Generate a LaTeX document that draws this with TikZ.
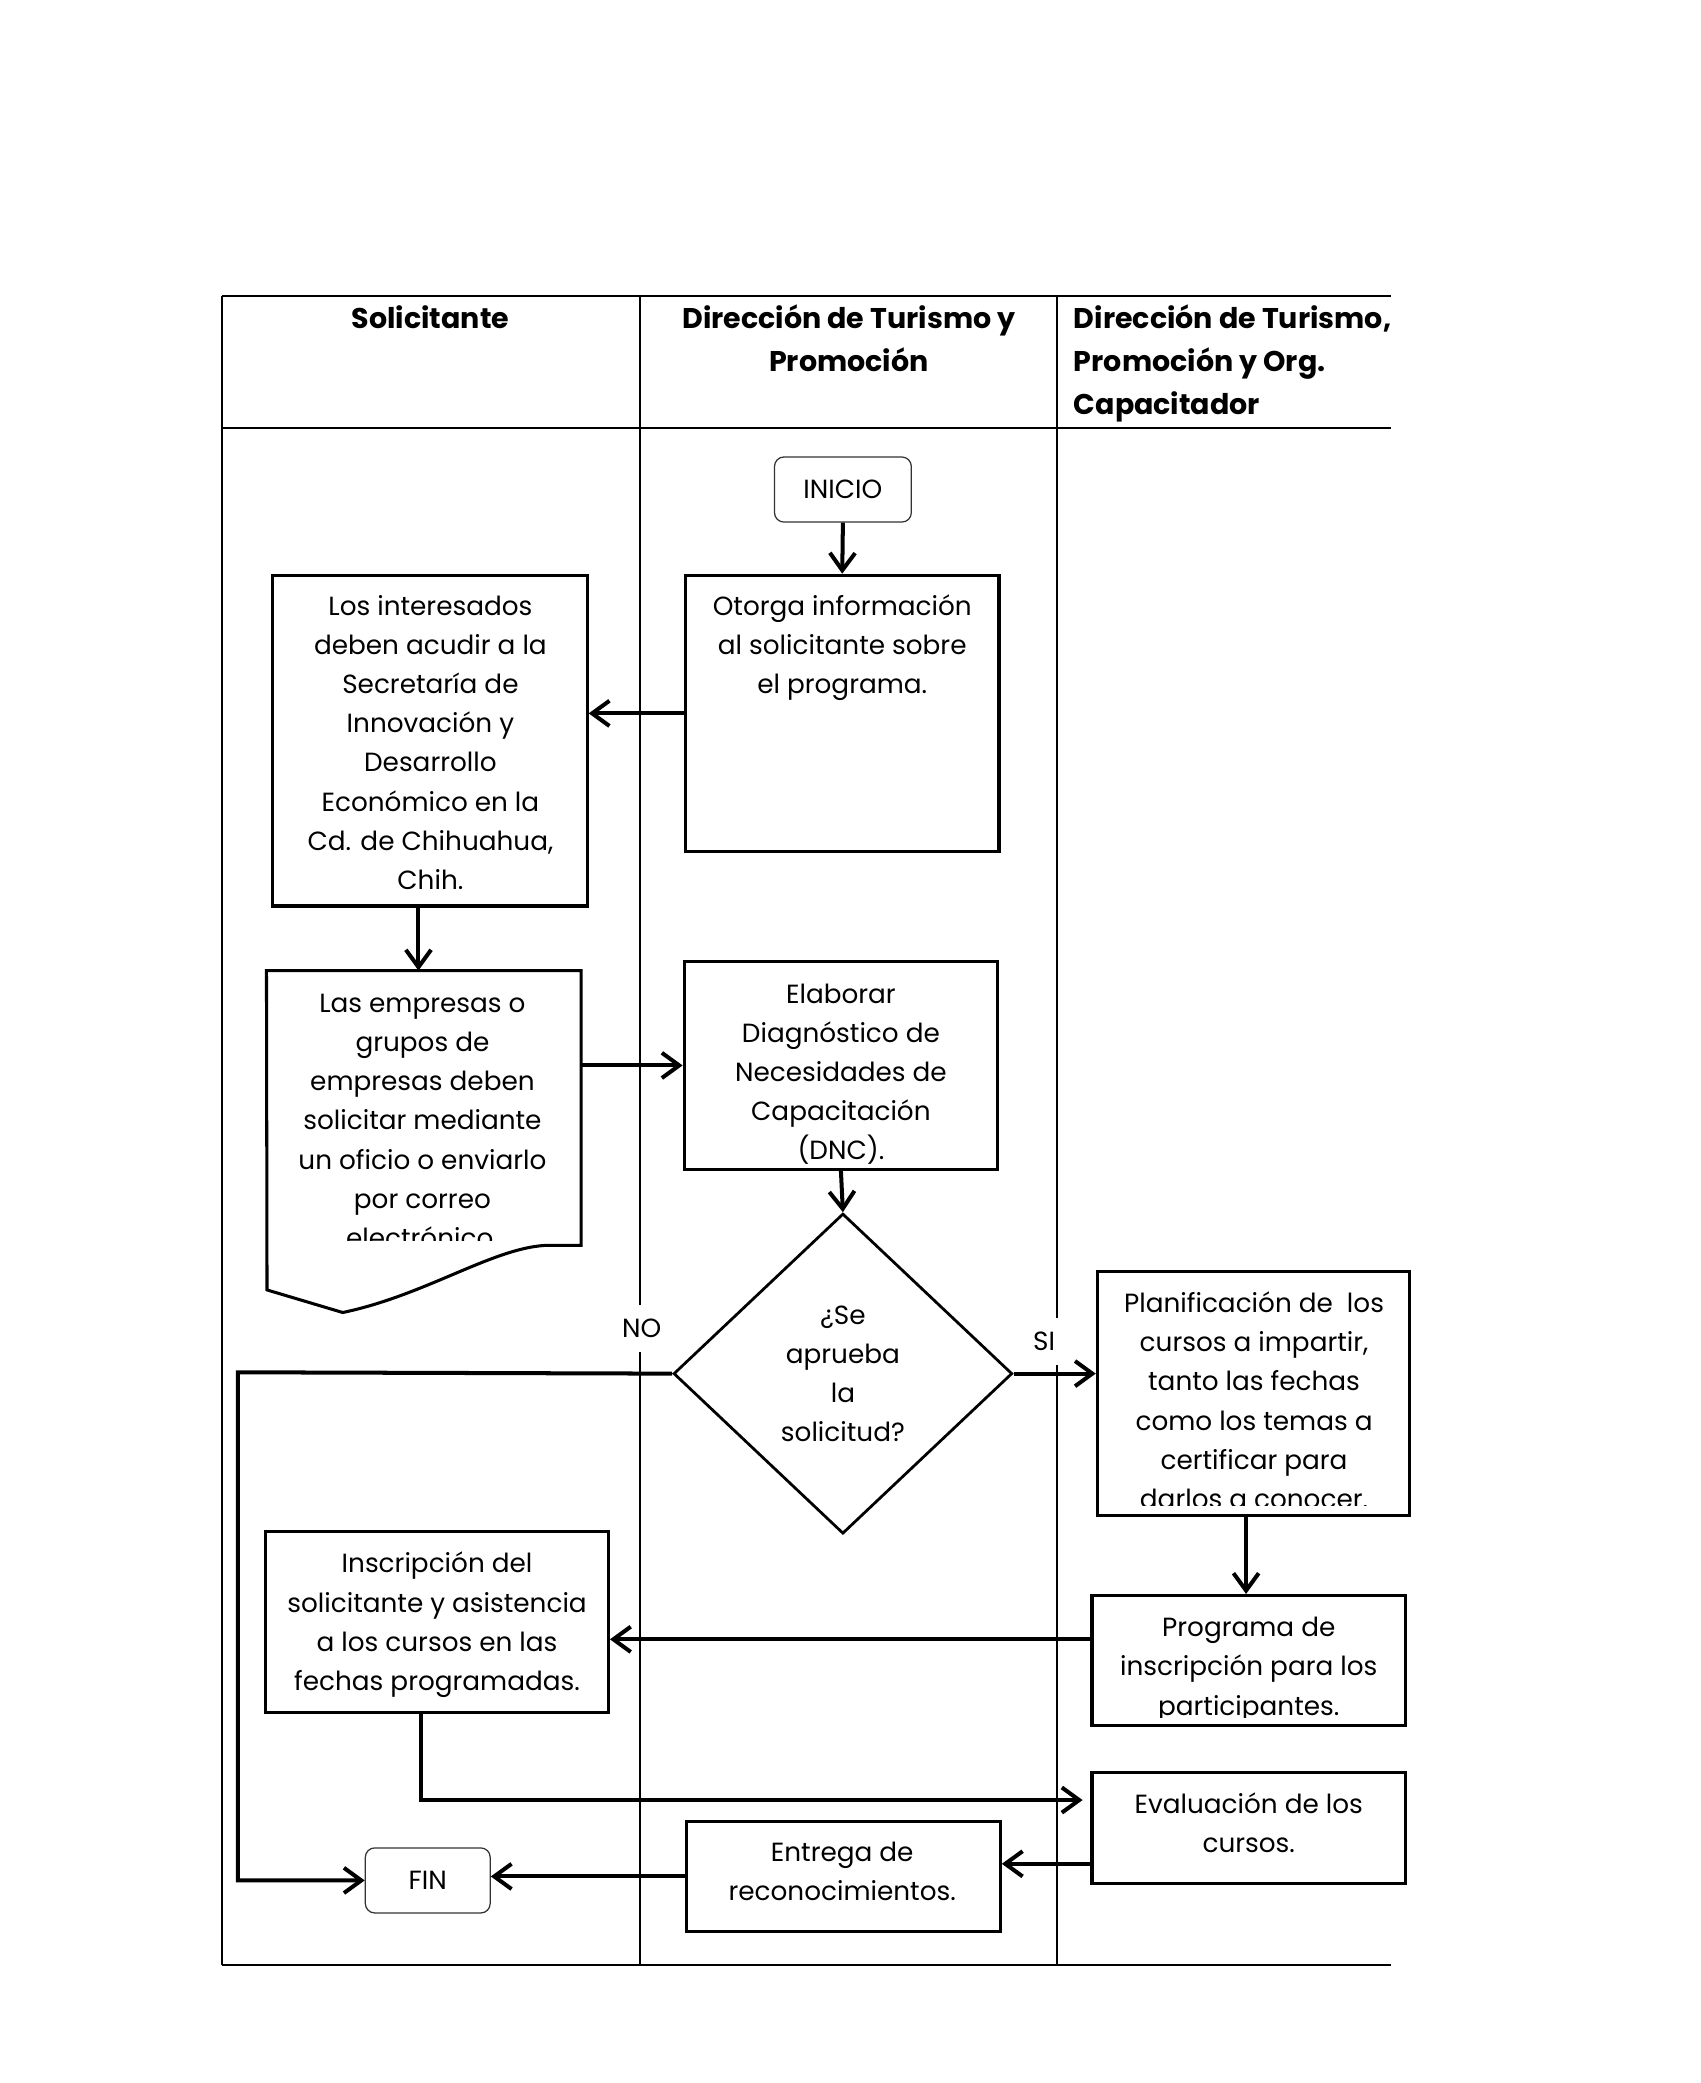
\documentclass[tikz,border=0pt]{standalone}
\usepackage{fontspec}
\setmainfont{Poppins}
\usetikzlibrary{positioning,arrows.meta,shapes.geometric,calc}
\newlength\pu
\setlength\pu{0.1687mm}
\newcommand\flowfont{\fontsize{9.5}{14.16}\selectfont}
\newcommand\headfont{\fontsize{10.3}{15.6}\selectfont\bfseries}

\begin{document}
\begin{tikzpicture}[
    x=0.1687mm, y=-0.1687mm,
    lane/.style={line width=0.7pt},
    frame/.style={line width=0.9pt},
    box/.style={draw, line width=1.1pt, inner sep=0pt},
    outline/.style={line width=1.1pt},
    term/.style={draw=black!80, line width=0.45pt, rounded corners=1.2mm, font=\flowfont},
    txt/.style={font=\flowfont, align=center, anchor=north, inner sep=0pt},
    head/.style={font=\headfont, inner sep=0pt, anchor=north},
    lbl/.style={font=\flowfont, fill=white, inner xsep=1.5mm, inner ysep=1.8mm},
    arr/.style={line width=1.45pt, -{Straight Barb[length=2.2mm,width=3.2mm]}}
  ]
  \useasboundingbox (0,0) rectangle (1280,1568);

  % swimlane table
  \draw[frame] (167,223) -- (1047,223);
  \draw[lane] (167,322) -- (1047,322);
  \draw[lane] (167,223) -- (167,1479);
  \draw[lane] (482,223) -- (482,1479);
  \draw[lane] (796,223) -- (796,1479);
  \draw[frame] (167,1479) -- (1047,1479);

  \node[head] (hsol) at (324,224) {\strut Solicitante};
  \node[head, align=center] (hdir) at (639,224) {\strut Dirección de Turismo y\\Promoción};
  \node[head, align=left, anchor=north west] (hcap) at (808,224) {\strut Dirección de Turismo,\\Promoción y Org.\\Capacitador};

  % steps
  \node[term, minimum width=103*\pu, minimum height=49*\pu] (inicio) at (634.5,368.5) {INICIO};

  \node[box, minimum width=236*\pu, minimum height=208*\pu] (otorga) at (634,537) {};
  \node[txt] (otorgatxt) at (634,442) {\strut Otorga información\\al solicitante sobre\\el programa.};

  \node[box, minimum width=237*\pu, minimum height=249*\pu] (interes) at (323.5,557.5) {};
  \node[txt] (interestxt) at (324,442) {\strut Los interesados\\deben acudir a la\\Secretaría de\\Innovación y\\Desarrollo\\Económico en la\\Cd. de Chihuahua,\\Chih.};

  \node[inner sep=0pt, minimum width=236*\pu, minimum height=206*\pu] (empresas) at (319,834) {};
  \draw[outline] (empresas.north west) -- (empresas.north east) -- (empresas.south east)
    -- (410,937.5) .. controls (370,940) and (320,975) .. (258,988) -- (201,971) -- cycle;
  \begin{scope}
    \clip (201,731) rectangle (437,934);
    \node[txt] (empresastxt) at (318,741) {\strut Las empresas o\\grupos de\\empresas deben\\solicitar mediante\\un oficio o enviarlo\\por correo\\electrónico.};
  \end{scope}

  \node[box, minimum width=236*\pu, minimum height=156*\pu] (elaborar) at (633,802) {};
  \begin{scope}
    \clip (515,724) rectangle (751,877);
    \node[txt] (elaborartxt) at (633,734) {\strut Elaborar\\Diagnóstico de\\Necesidades de\\Capacitación\\(DNC).};
  \end{scope}

  \node[draw, diamond, line width=1pt, minimum width=255*\pu, minimum height=241*\pu,
    inner sep=0pt, font=\flowfont, align=center] (dec) at (634.5,1034) {¿Se\\aprueba\\la\\solicitud?};

  \node[box, minimum width=235*\pu, minimum height=184*\pu] (plan) at (943.5,1049) {};
  \begin{scope}
    \clip (826,957) rectangle (1061,1133);
    \node[txt] (plantxt) at (944,967) {\strut Planificación de~ los\\cursos a impartir,\\tanto las fechas\\como los temas a\\certificar para\\darlos a conocer.};
  \end{scope}

  \node[box, minimum width=236*\pu, minimum height=98*\pu] (programa) at (940,1250) {};
  \begin{scope}
    \clip (822,1201) rectangle (1058,1293);
    \node[txt] (programatxt) at (940,1211) {\strut Programa de\\inscripción para los\\participantes.};
  \end{scope}

  \node[box, minimum width=258*\pu, minimum height=136*\pu] (inscr) at (329,1221) {};
  \node[txt] (inscrtxt) at (329,1163) {\strut Inscripción del\\solicitante y asistencia\\a los cursos en las\\fechas programadas.};

  \node[box, minimum width=236*\pu, minimum height=84*\pu] (eval) at (940,1376) {};
  \node[txt] (evaltxt) at (940,1344) {\strut Evaluación de los\\cursos.};

  \node[box, minimum width=236*\pu, minimum height=83*\pu] (entrega) at (635,1412.5) {};
  \node[txt] (entregatxt) at (634,1380) {\strut Entrega de\\reconocimientos.};

  \node[term, minimum width=94*\pu, minimum height=49*\pu] (fin) at (322,1415.5) {FIN};

  \node[lbl] (no) at (483,1000) {NO};
  \node[lbl] (si) at (786,1010) {SI};

  % connectors
  \coordinate (xint) at (315,0);
  \coordinate (xplan) at (938,0);
  \coordinate (noleft) at (179,1033);
  \coordinate (yprog) at (0,1234);
  \coordinate (yeval) at (317,1355);
  \coordinate (yentr) at (0,1403);

  \draw[arr] (inicio.south) -- (otorga.north);
  \draw[arr] (otorga.west) -- (otorga.west -| interes.east);
  \draw[arr] (interes.south -| xint) -- (empresas.north -| xint);
  \draw[arr] (empresas.east |- elaborar.west) -- (elaborar.west);
  \draw[arr] (elaborar.south) -- (dec.north);
  \draw[arr] (dec.east) -- (dec.east -| plan.west);
  \draw[arr] (dec.west) -- (noleft) |- (fin.west);
  \draw[arr] (plan.south -| xplan) -- (programa.north -| xplan);
  \draw[arr] (programa.west |- yprog) -- (inscr.east |- yprog);
  \draw[arr] (inscr.south -| yeval) -- (yeval) -- ([xshift=-1mm]eval.west |- yeval);
  \draw[arr] (eval.west |- yentr) -- (entrega.east |- yentr);
  \draw[arr] (entrega.west) -- (entrega.west -| fin.east);
\end{tikzpicture}
\end{document}
